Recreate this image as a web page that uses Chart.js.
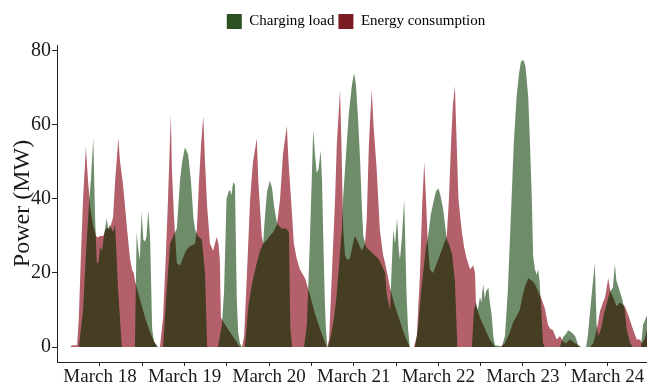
<!DOCTYPE html>
<html>
<head>
<meta charset="utf-8">
<script src="https://cdn.jsdelivr.net/npm/chart.js@4.4.1/dist/chart.umd.min.js"></script>
<style>
  html, body { margin: 0; padding: 0; background: #fff; }
</style>
</head>
<body>
<canvas id="chartPower" width="647" height="385"></canvas>
<script>
// hours counted from March 18, 00:00
const chargeHours = [
  3.5, 6.0, 7.2, 8.0, 8.9, 9.4, 10.1, 10.6, 11.1, 11.6, 12.0, 12.6, 13.1, 13.9, 14.3, 14.8, 15.7, 16.3, 17.1, 18.2,
  21.9, 22.4, 22.8, 23.3, 23.8, 24.3, 24.8, 25.2, 25.7, 26.2, 26.8, 27.3, 28.1, 28.5,
  29.9, 30.9, 31.9, 32.8, 33.8, 34.7, 35.3, 36.1, 37.0, 37.8, 38.5, 39.0, 39.8, 40.9, 41.8, 42.4,
  45.5, 46.0, 46.6, 47.2, 47.9, 48.5, 48.9, 49.3, 49.8, 50.3, 50.8, 51.2, 51.7, 52.3,
  53.1, 54.1, 55.1, 56.3, 57.4, 58.3, 58.7, 59.4, 60.2, 60.8, 61.4, 62.1, 62.5, 63.6, 64.8, 65.6, 66.0, 66.5,
  69.9, 70.7, 71.6, 72.5, 73.0, 73.5, 74.0, 74.6, 75.0, 75.3, 75.8, 76.1, 76.5,
  76.7, 77.5, 78.4, 79.1, 79.8, 80.6, 81.0, 81.8, 82.6, 83.5, 84.1, 84.6, 85.2, 85.8, 86.2, 86.7, 87.5, 88.6,
  89.7, 90.9, 92.0, 92.9, 93.4, 94.3, 94.7, 95.2, 95.7, 96.3, 96.8, 97.1, 97.7, 98.3, 98.7, 99.0, 99.4, 99.9,
  101.4, 102.2, 103.1, 103.9, 104.5, 105.1, 105.9, 106.8, 107.3, 108.0, 108.6, 109.4, 110.4, 111.0, 111.9, 112.7, 113.4,
  117.5, 118.1, 118.7, 119.2, 119.8, 120.2, 120.7, 121.2, 121.5, 122.2, 122.6, 123.1, 123.6, 124.1, 125.5, 126.0,
  126.9, 127.7, 128.8, 129.4, 130.2, 130.9, 131.4, 132.1, 132.7, 133.5, 134.0, 134.5, 134.9, 135.4, 135.9, 136.3, 136.7, 137.1, 137.7, 138.2,
  142.5, 143.4, 144.2, 144.8, 145.8, 146.8, 147.7, 148.6,
  149.9, 150.4, 151.3, 151.9, 152.4, 152.9, 153.4, 154.3, 155.0, 155.7, 156.7, 157.5, 158.1, 158.5, 159.0, 160.0, 160.9, 161.4, 162.4, 163.2, 165.5, 166.1, 167.2
];
const chargeMW = [
  0, 0, 10, 25, 39, 45, 56.4, 35, 22.6, 23, 27, 26, 30, 34.8, 32, 33, 31, 33, 16, 0,
  0, 31, 27, 23.6, 36.6, 29, 28.5, 30, 36.9, 30, 5, 1.5, 0.5, 0,
  0, 15, 28, 30, 32, 45, 50, 54, 52, 45, 35, 31.6, 30, 29, 20, 0,
  0, 3, 6, 15, 40, 42, 42.4, 41, 44.6, 43.7, 13.5, 4, 1, 0,
  0, 11, 17, 22, 26, 28, 34, 42, 45, 43, 38, 34, 33, 32, 32, 31, 5, 0,
  0, 6, 30, 58.8, 52, 47, 48, 53, 45, 31.6, 12, 5, 0,
  0, 3, 8, 13.6, 22, 31.6, 40.6, 52, 63, 71, 74, 71, 62, 50.5, 40, 30, 27, 26,
  25, 24, 22, 20, 14, 10, 20, 31.6, 28, 34.8, 26, 23.6, 30, 40, 25, 13.5, 5, 0,
  0, 5, 15, 22, 27, 30, 36, 40, 42, 42.9, 41, 37, 29, 28, 25, 18, 0,
  0, 10, 12, 10, 13.5, 12, 17, 13, 15, 16, 12, 9, 2.7, 0.5, 0.3, 0,
  3, 15, 40.6, 55, 67.6, 74, 77, 77.6, 76, 67.6, 55, 40.6, 24.5, 21, 19.5, 21, 18, 12, 1, 0,
  0, 2.7, 3.5, 4.5, 4, 3, 0.5, 0,
  0, 3, 12, 18, 22.6, 6, 3, 5.5, 9, 11.5, 15, 16, 22.4, 18, 16.5, 13.5, 10, 5, 1, 0, 0, 6, 8.6
];

const energyHours = [
  3.5, 4.1, 5.5, 6.0, 6.6, 7.2, 8.0, 8.6, 9.2, 10.0, 10.9, 11.4, 12.0, 12.9, 13.7, 14.8, 15.7, 16.3, 17.2, 17.7,
  18.5, 19.1, 19.7, 20.5, 21.1, 21.6, 21.9, 23.3, 24.8, 26.2, 27.6, 28.2,
  29.0, 29.9, 30.7, 31.3, 32.1, 32.4, 33.0, 33.8, 34.7, 35.5, 36.4, 37.2, 38.1, 39.0, 39.5, 40.1, 40.7, 41.3,
  41.8, 42.4, 43.2, 44.1, 45.1, 45.6, 46.0, 46.3, 47.5, 48.9, 50.3, 51.7,
  52.3, 52.9, 53.7, 54.6, 55.4, 56.5, 56.9, 57.9, 58.3, 59.4, 60.2, 61.1, 62.2, 63.1, 63.9, 65.0, 65.5, 66.4,
  67.0, 67.8, 68.7, 69.6, 70.2, 71.6, 73.0, 74.4, 76.3,
  76.5, 77.0, 77.8, 78.7, 79.2, 80.1, 80.5, 81.0, 81.5, 82.1, 82.9, 83.8, 84.3, 84.9, 85.8, 86.3, 87.2, 87.7,
  88.3, 89.1, 89.6, 90.5, 91.4, 92.3, 92.9, 93.7, 94.3, 95.7, 97.1, 98.5, 99.9,
  101.1, 101.9, 102.8, 103.4, 104.0, 104.5, 105.0, 105.6, 106.5, 107.3, 108.5, 109.6, 110.4, 111.0, 111.6,
  112.1, 112.7, 113.1, 113.7, 114.6, 115.3, 116.0, 117.0, 117.9, 118.4, 118.7, 119.8, 121.2, 122.6, 124.1,
  125.5, 126.9, 128.3, 129.2, 130.0, 131.1, 131.7, 132.6, 133.5, 134.5, 135.4, 136.3, 137.3, 138.2, 139.1,
  139.7, 140.5, 141.6, 142.5, 143.4, 144.2, 145.3, 146.8, 148.2,
  151.0, 152.0, 153.0, 153.9, 154.7, 155.3, 156.2, 156.8, 157.6, 158.6, 159.5, 160.9, 161.9, 163.3, 164.3,
  165.2, 165.8, 166.6, 167.2
];
const energyMW = [
  0, 0.5, 0.5, 8, 25, 40, 54.1, 45, 38, 33, 30, 29.6, 30, 30, 32, 32, 35, 45, 56.4, 50,
  44.2, 38, 31.6, 24, 20.8, 20, 18, 13, 8, 4, 1, 0,
  0, 8, 25, 40, 63, 48, 35, 22.6, 22, 24, 26, 27, 27.5, 28, 32, 45, 55, 62.4,
  50, 38, 28, 26, 29.7, 28, 23.6, 8, 6, 4, 2, 0,
  0, 3, 20, 40, 50, 56.4, 45, 30, 28, 29, 30, 31, 33, 40, 52, 59.7, 50, 37,
  28, 24, 21, 19.5, 18.5, 14, 9, 5, 0,
  0, 2, 20, 40, 55, 69.5, 55, 32, 25, 23.5, 24, 28, 30, 29, 27, 26, 28, 35,
  55, 69.6, 60, 48, 31.6, 25, 22.6, 19, 16, 11, 7, 3, 0,
  0, 3, 20, 38, 50, 40, 28, 21, 20, 22, 25, 28, 30, 40, 55,
  65, 70.5, 58, 40, 31.6, 27, 24, 21, 22, 20, 11, 8, 5, 2, 0,
  0, 1, 4, 6.7, 8, 10, 13, 16.4, 18.6, 18, 17, 15, 13, 10.5, 6,
  5, 4.5, 2, 3, 1.5, 1, 2, 1, 0,
  0, 1, 5, 9.8, 12, 13.4, 18.6, 15, 13.4, 11, 12, 11, 8.6, 4.5, 2,
  2, 1, 2.4, 4.6
];

const seriesNames = ['Charging load', 'Energy consumption'];
const dayLabels = ['March 18', 'March 19', 'March 20', 'March 21', 'March 22', 'March 23', 'March 24'];
const yTicks = [0, 20, 40, 60, 80];

const greenArea = '#6e8c69';
const redArea = '#b3606b';
const bothArea = '#463e23';
const legendColors = ['#2e5124', '#7b1c22'];
const serif = 'Liberation Serif, Times New Roman, serif';
const ink = '#1a1a1a';

const toPoints = (xs, ys) => xs.map((x, i) => ({ x: x, y: ys[i] }));

// red first, then the overlap only on top of red, then green behind everything
const blend = {
  id: 'blend',
  afterInit(chart) {
    const lg = chart.legend;
    const fit = lg.fit.bind(lg);
    lg.fit = function () { fit(); this.height = 35; };
    const draw = lg.draw.bind(lg);
    lg.draw = function () {
      const c = this.ctx;
      c.save();
      c.translate(4, 0);
      draw();
      c.restore();
    };
  },
  beforeDatasetsDraw(chart) { chart.ctx.globalCompositeOperation = 'source-over'; },
  afterDatasetDraw(chart, args) {
    const ctx = chart.ctx;
    if (args.index === 2) ctx.globalCompositeOperation = 'source-atop';
    else if (args.index === 1) ctx.globalCompositeOperation = 'destination-over';
    else ctx.globalCompositeOperation = 'source-over';
  },
  afterDatasetsDraw(chart) { chart.ctx.globalCompositeOperation = 'source-over'; }
};

const areaStyle = { fill: 'origin', borderWidth: 0, pointRadius: 0, pointHoverRadius: 0, tension: 0 };

new Chart(document.getElementById('chartPower').getContext('2d'), {
  type: 'line',
  data: {
    datasets: [
      Object.assign({ label: seriesNames[0], data: toPoints(chargeHours, chargeMW), backgroundColor: greenArea }, areaStyle),
      Object.assign({ label: 'overlap', data: toPoints(chargeHours, chargeMW), backgroundColor: bothArea }, areaStyle),
      Object.assign({ label: seriesNames[1], data: toPoints(energyHours, energyMW), backgroundColor: redArea }, areaStyle)
    ]
  },
  plugins: [blend],
  options: {
    responsive: false,
    animation: false,
    events: [],
    layout: { padding: { top: 10, left: 0, right: 0, bottom: 0 } },
    plugins: {
      tooltip: { enabled: false },
      legend: {
        display: true,
        position: 'top',
        fullSize: false,
        labels: {
          color: ink,
          font: { family: serif, size: 15 },
          boxWidth: 15,
          boxHeight: 15,
          padding: 4,
          generateLabels: () => seriesNames.map((t, i) => ({
            text: t,
            fillStyle: legendColors[i],
            strokeStyle: legendColors[i],
            lineWidth: 0,
            hidden: false,
            datasetIndex: i === 0 ? 0 : 2
          }))
        }
      }
    },
    scales: {
      x: {
        type: 'linear',
        min: -0.2,
        max: 167.2,
        afterBuildTicks: (scale) => {
          scale.ticks = [];
          for (let h = 12; h <= 156; h += 12) scale.ticks.push({ value: h });
        },
        afterFit: (scale) => { scale.height = 23; },
        grid: { drawOnChartArea: false, drawTicks: true, tickLength: 4, color: '#222' },
        border: { display: true, color: '#222', width: 1 },
        ticks: {
          autoSkip: false,
          maxRotation: 0,
          padding: 0,
          color: ink,
          font: { family: serif, size: 19 },
          callback: (v) => ((v - 12) % 24 === 0 ? dayLabels[(v - 12) / 24] : '')
        }
      },
      y: {
        min: -4.05,
        max: 81.6,
        afterBuildTicks: (scale) => { scale.ticks = yTicks.map(v => ({ value: v })); },
        afterFit: (scale) => { scale.width = 57; },
        grid: { drawOnChartArea: false, drawTicks: true, tickLength: 5, color: '#222' },
        border: { display: true, color: '#222', width: 1 },
        ticks: {
          padding: 1,
          color: ink,
          font: { family: serif, size: 20 }
        },
        title: {
          display: true,
          text: 'Power (MW)',
          color: ink,
          font: { family: serif, size: 24 },
          padding: { top: 8, bottom: 0 }
        }
      }
    }
  }
});
</script>
</body>
</html>
